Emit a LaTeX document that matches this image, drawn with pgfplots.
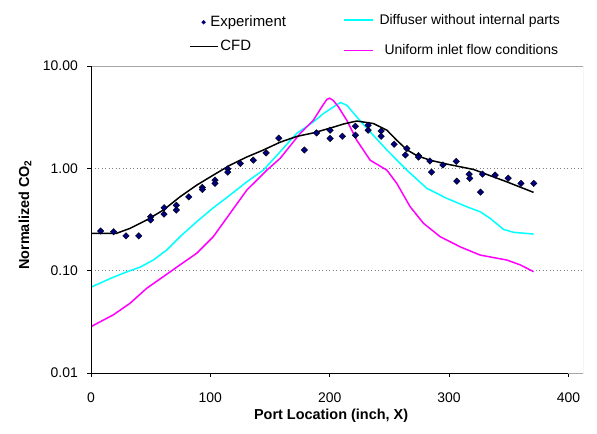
\documentclass[border=0pt]{standalone}
\usepackage{pgfplots}
\pgfplotsset{compat=1.18}
\usepackage{fontspec}
\setmainfont{Liberation Sans}
\definecolor{navyd}{RGB}{0,0,128}
\definecolor{cyn}{RGB}{0,255,255}
\definecolor{mag}{RGB}{255,0,255}

\pgfplotstableread{
x y
8.1 0.244
19.0 0.240
29.3 0.219
40.0 0.219
50.0 0.336
50.0 0.313
61.2 0.412
61.2 0.357
71.5 0.435
71.5 0.391
81.9 0.527
93.3 0.651
93.3 0.622
103.9 0.767
103.9 0.713
114.6 0.989
114.6 0.918
125.1 1.117
136.0 1.202
146.7 1.416
157.3 1.97
178.8 1.51
189.0 2.22
200.3 2.36
200.3 1.96
210.6 2.06
221.5 2.58
221.5 2.11
232.2 2.64
232.2 2.36
243.1 2.32
243.1 2.06
254.0 1.72
264.6 1.56
263.4 1.35
274.4 1.33
274.4 1.29
283.9 1.18
285.3 0.918
294.8 1.08
306.0 1.17
306.5 0.75
316.8 0.877
317.3 0.797
326.3 0.586
328.0 0.877
338.6 0.859
349.5 0.801
360.2 0.713
371.0 0.713
}\expdata

\pgfplotstableread{
x y
0 0.232
21.5 0.232
32.7 0.259
46.7 0.313
60.6 0.391
74.6 0.527
88.6 0.686
102.5 0.859
116.5 1.074
130.5 1.29
144.4 1.51
158.4 1.80
172.4 2.05
186.3 2.22
200.3 2.47
212 2.72
222.7 2.9
236.6 2.74
247.9 2.36
256.2 1.88
264.6 1.52
273 1.33
284.2 1.2
298.2 1.1
312.1 1.02
320.5 0.975
331.7 0.871
348.4 0.738
370.8 0.582
}\cfd

\pgfplotstableread{
x y
0 0.069
18.7 0.0863
32.7 0.100
41 0.108
52.2 0.127
63.4 0.159
74.6 0.215
88.6 0.301
102.5 0.412
116.5 0.548
130.5 0.738
144.4 0.96
158.4 1.45
172.4 2.2
186.3 2.84
194.7 3.43
203.1 3.98
209 4.4
214.3 4.14
222.7 3.18
233.9 2.27
247.9 1.51
264.6 0.96
281.4 0.637
298.2 0.508
314.9 0.421
326.1 0.376
334.5 0.324
345.6 0.253
354 0.237
370.8 0.228
}\diffuser

\pgfplotstableread{
x y
0 0.0284
18.7 0.037
32.7 0.048
46.7 0.0673
60.6 0.0874
74.6 0.114
88.6 0.148
102.5 0.215
116.5 0.363
130.5 0.612
147.3 0.96
158.4 1.25
175.2 2.19
186.3 2.95
193.3 3.98
197.5 4.7
200 4.85
203 4.6
207.3 3.98
214.3 2.95
222.7 1.88
233.9 1.2
247.9 0.96
256.2 0.713
267.4 0.421
278.6 0.29
292.5 0.215
309.3 0.171
326.1 0.142
348.4 0.127
359.6 0.114
370.8 0.0977
}\uniform

\begin{document}
\begin{tikzpicture}
\path[use as bounding box] (0,0) rectangle (597bp,434bp);
\begin{axis}[
  at={(91bp,61bp)}, anchor=south west,
  scale only axis, width=492bp, height=307bp,
  xmin=0, xmax=412.2,
  ymode=log, ymin=0.01, ymax=10,
  xtick={0,100,200,300,400}, xticklabels={0,100,200,300,400},
  ytick={0.01,0.1,1,10}, yticklabels={0.01,0.10,1.00,10.00},
  yminorticks=false,
  tick pos=left,
  tick align=outside, major tick length=4bp,
  tick style={black, line width=0.8bp},
  axis line style={draw=none},
  ymajorgrids, grid style={gray, dash pattern=on 1bp off 2.5bp, line width=0.8bp},
  ticklabel style={font=\fontsize{14}{16}\selectfont},
  yticklabel style={inner sep=0pt, anchor=east, xshift=-9bp},
  xticklabel style={inner sep=0pt, anchor=north, yshift=-16bp},
  xlabel={\textbf{Port Location (inch, X)}},
  ylabel={\textbf{Normalized CO\textsubscript{2}}},
  every axis x label/.style={at={(rel axis cs:0.488,0)}, anchor=center, yshift=-43bp, font=\fontsize{14.5}{16}\selectfont},
  every axis y label/.style={at={(rel axis cs:0,0.515)}, xshift=-66bp, rotate=90, anchor=center, font=\fontsize{14.5}{16}\selectfont},
  legend style={at={(axis description cs:0.199,1.169)}, anchor=north west, draw=none, fill=none,
    inner sep=0pt, outer sep=0pt, font=\fontsize{15}{17}\selectfont, legend cell align=left,
    row sep=8bp},
  legend image code/.code={\draw[mark repeat=2, mark phase=2, #1] plot coordinates {(0bp,0bp) (14bp,0bp) (28bp,0bp)};},
]
\addplot[cyn, line width=1.5bp, forget plot] table {\diffuser};
\addplot[mag, line width=1.5bp, forget plot] table {\uniform};
\addplot[black, line width=1.5bp, forget plot] table {\cfd};
\addplot[only marks, mark=square*, mark size=2.3bp, mark options={rotate=45, fill=navyd, draw=none}, forget plot] table {\expdata};
\addlegendimage{draw opacity=0, mark=square*, mark size=1.6bp, mark options={rotate=45, fill=navyd, draw=none, draw opacity=0}, mark repeat=3, mark phase=1}
\addlegendentry{\hspace*{-10bp}Experiment}
\addlegendimage{black, line width=1.5bp}
\addlegendentry{CFD}
\draw[gray!70, line width=0.8bp] (rel axis cs:0,0) rectangle (rel axis cs:1,1);
\draw[black, line width=0.8bp] (rel axis cs:0,0) -- (rel axis cs:0,1);
\draw[black, line width=0.8bp] (axis cs:0,0.01) -- (axis cs:400,0.01);
\end{axis}
\begin{axis}[
  at={(91bp,61bp)}, anchor=south west,
  scale only axis, width=492bp, height=307bp,
  xmin=0, xmax=1, ymin=0, ymax=1, hide axis,
  legend style={at={(axis description cs:0.512,1.176)}, anchor=north west, draw=none, fill=none,
    inner sep=0pt, outer sep=0pt, font=\fontsize{14}{16}\selectfont, legend cell align=left,
    row sep=15bp},
  legend image code/.code={\draw[#1] (0bp,0bp) -- (29bp,0bp);},
]
\addlegendimage{cyn, line width=1.6bp}
\addlegendentry{\hspace*{4bp}Diffuser without internal parts}
\addlegendimage{mag, line width=1.6bp}
\addlegendentry{\hspace*{9bp}Uniform inlet flow conditions}
\end{axis}
\end{tikzpicture}
\end{document}
